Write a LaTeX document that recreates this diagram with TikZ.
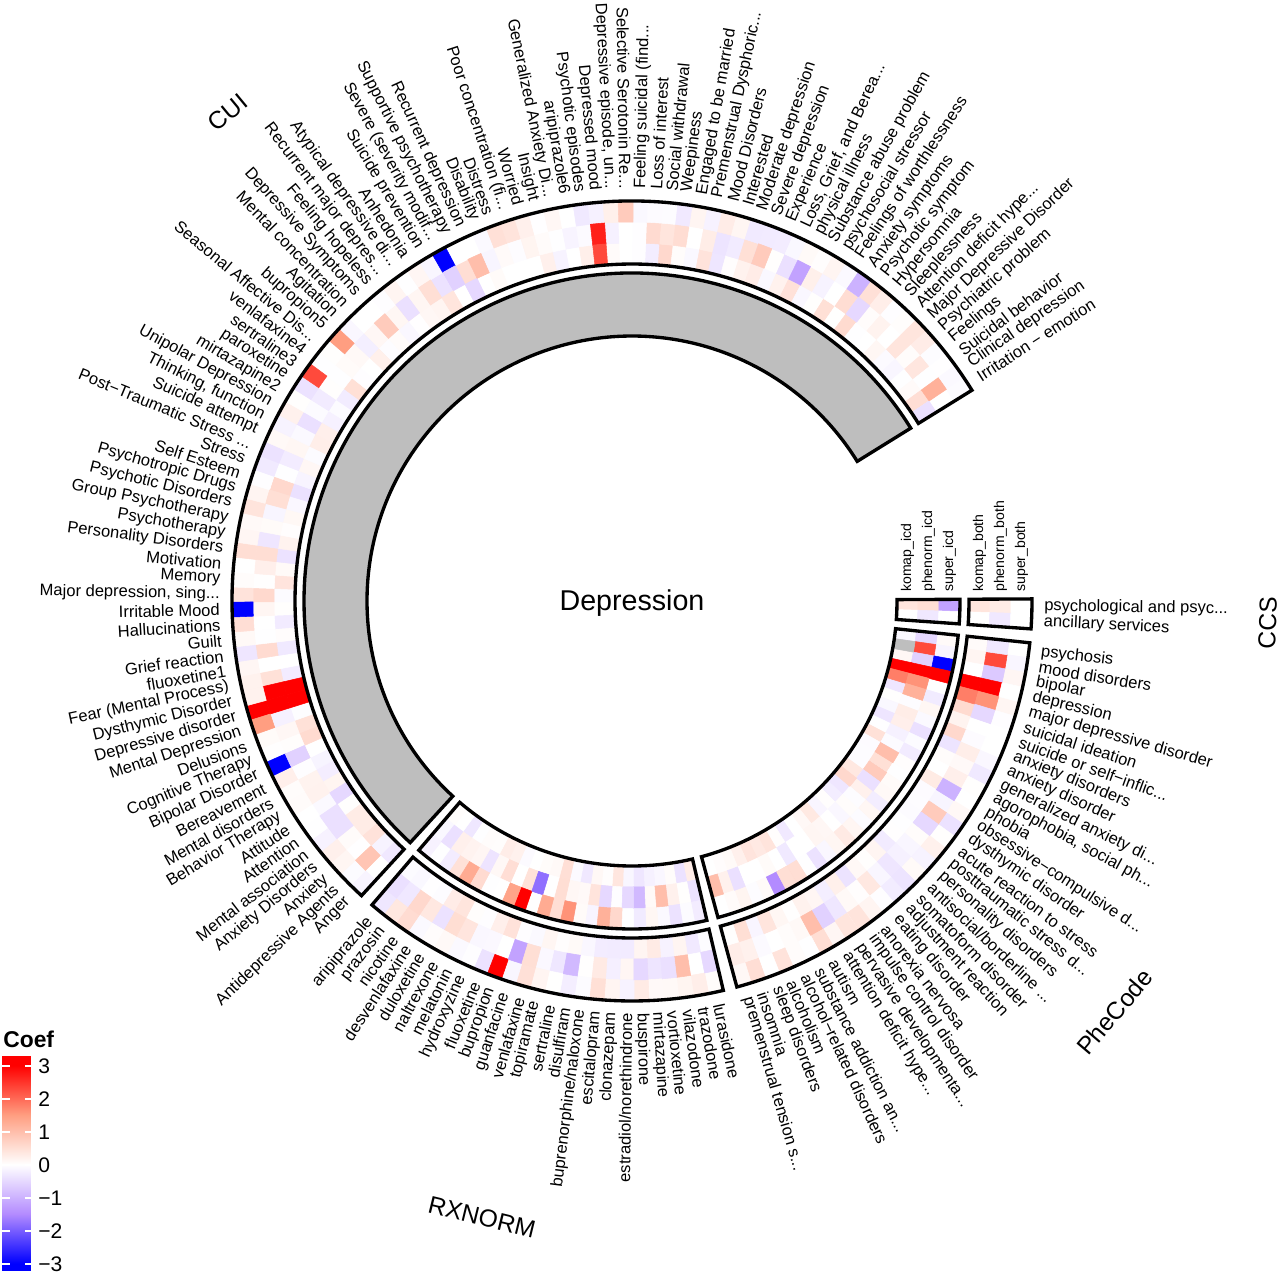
\documentclass[tikz,border=0pt]{standalone}
\usepackage{fontspec}
\setmainfont{Liberation Sans}
\definecolor{redmid}{HTML}{FF9E81}
\definecolor{bluemid}{HTML}{B38BFF}
\definecolor{nagrey}{HTML}{BEBEBE}
\def\cw{2.15}
\def\labr{412}
\def\ccsstart{0.3}
\def\phestart{-6}
\def\rxstart{-76.8}
\def\cuistart{-132.55}
\newcommand{\trunc}{...}
\tikzset{
  lab/.style={inner sep=0pt,font=\fontsize{9.4}{10}\selectfont},
  secname/.style={inner sep=0pt,font=\fontsize{14}{16}\selectfont},
  colname/.style={inner sep=0pt,anchor=west,rotate=90,font=\fontsize{8}{9}\selectfont},
  trackborder/.style={draw=black,line width=1.9pt,line join=miter},
  legtick/.style={draw=white,line width=1pt},
  legnum/.style={inner sep=0pt,anchor=west,font=\fontsize{12}{14}\selectfont}
}
\newcommand{\coefcolor}[1]{%
  \pgfmathsetmacro\cv{#1}%
  \pgfmathtruncatemacro\cc{\cv>1.5 ? 1 : (\cv<-1.5 ? 4 : (\cv<0 ? 3 : 2))}%
  \ifcase\cc\or
    \pgfmathsetmacro\cp{min(100,(\cv-1.5)/1.5*100)}\colorlet{coefcol}{red!\cp!redmid}%
  \or
    \pgfmathsetmacro\cp{\cv/1.5*100}\colorlet{coefcol}{redmid!\cp!white}%
  \or
    \pgfmathsetmacro\cp{abs(\cv)/1.5*100}\colorlet{coefcol}{bluemid!\cp!white}%
  \or
    \pgfmathsetmacro\cp{min(100,(abs(\cv)-1.5)/1.5*100)}\colorlet{coefcol}{blue!\cp!bluemid}%
  \fi}
\newcommand{\hcell}[5]{%
  \pgfmathsetmacro\cella{#1-(#3-1)*\cw}\pgfmathsetmacro\cellb{#1-#3*\cw}%
  \pgfmathsetmacro\cellr{#2+#4*21}\pgfmathsetmacro\cellR{\cellr+21}%
  \fill[#5,draw=#5,line width=0.3pt] (\cella:\cellr) arc[start angle=\cella,end angle=\cellb,radius=\cellr]
    -- (\cellb:\cellR) arc[start angle=\cellb,end angle=\cella,radius=\cellR] -- cycle;}
\newcommand{\vcell}[5]{\coefcolor{#5}\hcell{#1}{#2}{#3}{#4}{coefcol}}
\newcommand{\heatnoise}[4]{%
  \foreach \k in {1,...,#2} \foreach \r in {0,1,2} {%
    \pgfmathsetmacro\nu{frac(abs(sin(\k*127.1+\r*311.7+#4)*937.5))-0.45}%
    \pgfmathsetmacro\nv{2*\nu*abs(\nu)}%
    \vcell{#1}{#3}{\k}{\r}{\nv}}}
\newcommand{\trackbox}[5][]{%
  \pgfmathsetmacro\cella{#2}\pgfmathsetmacro\cellb{#2-#3*\cw}%
  \draw[trackborder,#1] (\cella:#4) arc[start angle=\cella,end angle=\cellb,radius=#4]
    -- (\cellb:#5) arc[start angle=\cellb,end angle=\cella,radius=#5] -- cycle;}
\newcommand{\seclabel}[4]{%
  \pgfmathsetmacro\la{mod(#2-(#3-0.5)*\cw+720,360)}%
  \pgfmathtruncatemacro\lflip{(\la>90)&&(\la<270)}%
  \ifnum\lflip=1
    \node[lab,anchor=east,rotate=\la-180] (#1-#3) at (\la:\labr) {#4};
  \else
    \node[lab,anchor=west,rotate=\la] (#1-#3) at (\la:\labr) {#4};
  \fi}
\begin{document}
\begin{tikzpicture}[x=0.02cm,y=0.02cm]
\useasboundingbox (-632,-670) rectangle (648,601);
\heatnoise{\cuistart}{91}{337}{11}
\foreach \k/\r/\v in {62/1/2.7,62/0/2.3,64/2/0.8,51/2/-3,51/1/-0.6,52/0/-0.5,50/0/0.4,53/1/1.0,42/2/1.5,39/2/2.3,
  45/1/0.8,49/1/0.5,47/1/-0.4,77/1/-1.2,81/2/-1.0,82/1/-0.5,90/1/1.2,91/0/-0.4,74/1/0.8,30/1/0.5,22/2/-3,
  15/0/3,15/1/3,15/2/3,16/0/3,16/1/3,16/2/0.2,14/2/1.5,11/2/-3,11/1/-0.6,2/1/0.9,6/1/-0.4,7/0/-0.5,5/1/-0.4}
  {\vcell{\cuistart}{337}{\k}{\r}{\v}}
\trackbox{\cuistart}{91}{337}{400}
\trackbox[fill=nagrey]{\cuistart}{91}{265}{328}
\heatnoise{\rxstart}{25}{337}{23}
\foreach \k/\r/\v in {16/2/3,15/1/-1.2,11/1/-0.9,23/1/0.6,24/1/-0.3,25/1/-0.4,6/1/-0.5,3/1/1.0,1/1/-0.5,4/1/-0.4,14/1/0.5}
  {\vcell{\rxstart}{337}{\k}{\r}{\v}}
\trackbox{\rxstart}{25}{337}{400}
\heatnoise{\rxstart}{25}{265}{37}
\foreach \k/\r/\v in {21/2/1.3,16/2/3,17/2/1.4,15/1/-1.8,14/2/1.3,12/2/1.6,9/2/1.2,6/1/-0.9,7/1/-0.5,4/1/1.0,9/1/-0.5,24/1/-0.4}
  {\vcell{\rxstart}{265}{\k}{\r}{\v}}
\trackbox{\rxstart}{25}{265}{328}
\heatnoise{\phestart}{32}{337}{53}
\foreach \k/\r/\v in {2/1/2.3,3/1/-0.7,4/0/3,4/1/3,4/2/0,5/0/1.8,5/1/1.6,6/1/-0.5,1/1/-0.3,12/1/-1.0,14/1/0.8,15/1/-0.5,
  26/1/1.0,25/1/-0.6,24/2/0.4,29/0/0.4}
  {\vcell{\phestart}{337}{\k}{\r}{\v}}
\trackbox{\phestart}{32}{337}{400}
\heatnoise{\phestart}{32}{265}{71}
\foreach \k/\r/\v in {1/1/-0.5,2/1/2.3,3/1/-0.6,3/2/-3,4/0/3,4/1/3,4/2/3,5/0/1.8,5/1/1.6,6/1/1.2,12/1/1.0,14/1/0.8,
  15/1/-0.4,16/0/0.6,27/2/-1.5,32/1/1.0,30/1/-0.4,26/2/0.5}
  {\vcell{\phestart}{265}{\k}{\r}{\v}}
\hcell{\phestart}{265}{2}{0}{nagrey}
\trackbox{\phestart}{32}{265}{328}
\foreach \k/\r/\v in {1/0/0.4,1/1/0.3,1/2/0,2/0/0,2/1/-0.3,2/2/0}
  {\vcell{\ccsstart}{337}{\k}{\r}{\v}}
\trackbox{\ccsstart}{2}{337}{400}
\foreach \k/\r/\v in {1/0/0.4,1/1/0.5,1/2/-1.2,2/0/0,2/1/-0.3,2/2/0}
  {\vcell{\ccsstart}{265}{\k}{\r}{\v}}
\trackbox{\ccsstart}{2}{265}{328}
\foreach \t [count=\i] in {komap,phenorm,super} {
  \node[colname] (icd\i) at (254.5+21*\i,9) {\t\_icd};
  \node[colname] (both\i) at (326.5+21*\i,9) {\t\_both};
}
\foreach \lab [count=\k] in {{Anger},{Antidepressive Agents},{Anxiety},{Anxiety Disorders},{Mental association},{Attention},
  {Attitude},{Behavior Therapy},{Mental disorders},{Bereavement},{Bipolar Disorder},{Cognitive Therapy},{Delusions},
  {Mental Depression},{Depressive disorder},{Dysthymic Disorder},{Fear (Mental Process)},{fluoxetine1},{Grief reaction},
  {Guilt},{Hallucinations},{Irritable Mood},{Major depression, sing\trunc},{Memory},{Motivation},{Personality Disorders},
  {Psychotherapy},{Group Psychotherapy},{Psychotic Disorders},{Psychotropic Drugs},{Self Esteem},{Stress},
  {Post−Traumatic Stress \trunc},{Suicide attempt},{Thinking, function},{Unipolar Depression},{mirtazapine2},{paroxetine},
  {sertraline3},{venlafaxine4},{Seasonal Affective Dis\trunc},{bupropion5},{Agitation},{Mental concentration},
  {Depressive Symptoms},{Feeling hopeless},{Recurrent major depres\trunc},{Atypical depressive di\trunc},{Anhedonia},
  {Suicide prevention},{Severe (severity modif\trunc},{Supportive psychotherapy},{Recurrent depression},{Disability},
  {Distress},{Poor concentration (fi\trunc},{Worried},{Insight},{Generalized Anxiety Di\trunc},{aripiprazole6},
  {Psychotic episodes},{Depressed mood},{Depressive episode, un\trunc},{Selective Serotonin Re\trunc},{Feeling suicidal (find\trunc},
  {Loss of interest},{Social withdrawal},{Weepiness},{Engaged to be married},{Premenstrual Dysphoric\trunc},{Mood Disorders},
  {Interested},{Moderate depression},{Severe depression},{Experience},{Loss, Grief, and Berea\trunc},{physical illness},
  {Substance abuse problem},{psychosocial stressor},{Feelings of worthlessness},{Anxiety symptoms},{Psychotic symptom},
  {Hypersomnia},{Sleeplessness},{Attention deficit hype\trunc},{Major Depressive Disorder},{Psychiatric problem},{Feelings},
  {Suicidal behavior},{Clinical depression},{Irritation − emotion}}
  {\seclabel{cui}{\cuistart}{\k}{\lab}}
\foreach \lab [count=\k] in {{lurasidone},{trazodone},{vilazodone},{vortioxetine},{mirtazapine},{buspirone},
  {estradiol/norethindrone},{clonazepam},{escitalopram},{buprenorphine/naloxone},{disulfiram},{sertraline},{topiramate},
  {venlafaxine},{guanfacine},{bupropion},{fluoxetine},{hydroxyzine},{melatonin},{naltrexone},{duloxetine},
  {desvenlafaxine},{nicotine},{prazosin},{aripiprazole}}
  {\seclabel{rx}{\rxstart}{\k}{\lab}}
\foreach \lab [count=\k] in {{psychosis},{mood disorders},{bipolar},{depression},{major depressive disorder},
  {suicidal ideation},{suicide or self−inflic\trunc},{anxiety disorders},{anxiety disorder},{generalized anxiety di\trunc},
  {agorophobia, social ph\trunc},{phobia},{obsessive−compulsive d\trunc},{dysthymic disorder},{acute reaction to stress},
  {posttraumatic stress d\trunc},{personality disorders},{antisocial/borderline \trunc},{somatoform disorder},
  {adjustment reaction},{eating disorder},{anorexia nervosa},{impulse control disorder},{pervasive developmenta\trunc},
  {attention deficit hype\trunc},{autism},{substance addiction an\trunc},{alcohol−related disorders},{alcoholism},
  {sleep disorders},{insomnia},{premenstrual tension s\trunc}}
  {\seclabel{phe}{\phestart}{\k}{\lab}}
\foreach \lab [count=\k] in {{psychological and psyc\trunc},{ancillary services}}
  {\seclabel{ccs}{\ccsstart}{\k}{\lab}}
\node[secname,rotate=39.6] (cuiname) at (129.6:634) {CUI};
\node[secname,rotate=-13.7] (rxname) at (256.3:634) {RXNORM};
\node[secname,rotate=49.6] (phename) at (319.6:634) {PheCode};
\node[secname,rotate=88] (ccsname) at (-2:636) {CCS};
\node[font=\fontsize{16.3}{19}\selectfont] (title) at (0,-2) {Depression};
\foreach \yy in {0,...,214} {
  \pgfmathsetmacro\lv{max(-3,min(3,(\yy+0.5-106)/33))}
  \coefcolor{\lv}
  \fill[coefcol] (-630,\yy-670) rectangle (-601,\yy-668.8);
}
\foreach \v/\t [count=\i] in {3/3,2/2,1/1,0/0,-1/−1,-2/−2,-3/−3} {
  \draw[legtick] (-630,-564+33*\v) -- (-622,-564+33*\v);
  \draw[legtick] (-607,-564+33*\v) -- (-601,-564+33*\v);
  \node[legnum] (legnum\i) at (-594,-564+33*\v) {\t};
}
\node[inner sep=0pt,anchor=west,font=\bfseries\fontsize{13}{15}\selectfont] (legtitle) at (-629,-438) {Coef};
\end{tikzpicture}
\end{document}
